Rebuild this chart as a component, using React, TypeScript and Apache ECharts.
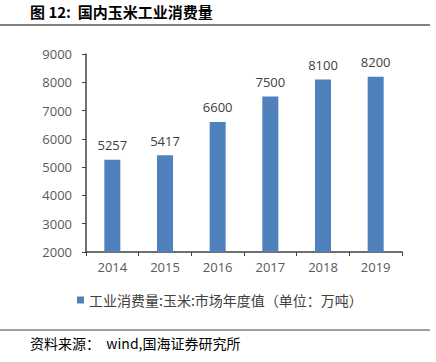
import React, { useEffect, useRef } from "react";
import * as echarts from "echarts";

const title = "图 12:  国内玉米工业消费量";
const source = "资料来源：  wind,国海证券研究所";
const seriesName = "工业消费量:玉米:市场年度值（单位：万吨）";
const categories = ["2014", "2015", "2016", "2017", "2018", "2019"];
const values = [5257, 5417, 6600, 7500, 8100, 8200];

export default function App() {
  const ref = useRef<HTMLDivElement>(null);
  useEffect(() => {
    const chart = echarts.init(ref.current!, null, { renderer: "svg" });
    chart.setOption({
      animation: false,
      backgroundColor: "#fff",
      textStyle: { fontFamily: "Noto Sans CJK SC, sans-serif" },
      grid: { left: 86, right: 34, top: 54, bottom: 110 },
      legend: {
        data: [seriesName],
        left: 72,
        top: 288,
        itemWidth: 7,
        itemHeight: 7,
        itemGap: 5,
        icon: "rect",
        textStyle: { fontSize: 14, color: "#404040", fontFamily: "Noto Sans CJK SC" },
      },
      xAxis: {
        type: "category",
        data: categories,
        axisLine: { lineStyle: { color: "#404040", width: 1.5 } },
        axisTick: { show: true, length: 4, lineStyle: { color: "#404040" } },
        axisLabel: { color: "#595959", fontSize: 13, margin: 8, fontFamily: "Open Sans, sans-serif" },
      },
      yAxis: {
        type: "value",
        min: 2000,
        max: 9000,
        interval: 1000,
        splitLine: { show: false },
        axisLine: { show: true, lineStyle: { color: "#404040", width: 1.5 } },
        axisTick: { show: true, length: 4, lineStyle: { color: "#404040" } },
        axisLabel: {
          color: "#595959",
          fontSize: 13,
          margin: 14,
          fontFamily: "Open Sans, sans-serif",
          formatter: (v: number) => String(v),
        },
      },
      series: [
        {
          name: seriesName,
          type: "bar",
          data: values,
          barWidth: 16,
          itemStyle: { color: "#4f81bd" },
          label: {
            show: true,
            position: "top",
            distance: 8,
            color: "#404040",
            fontSize: 13,
            fontFamily: "Open Sans, sans-serif",
          },
        },
      ],
      graphic: [
        {
          type: "text",
          left: 30,
          top: 4,
          style: { text: title, font: "bold 15px 'Noto Sans CJK SC'", fill: "#000" },
        },
        {
          type: "line",
          shape: { x1: 0, y1: 25, x2: 430, y2: 25 },
          style: { stroke: "#808080", lineWidth: 2 },
        },
        {
          type: "line",
          shape: { x1: 0, y1: 330, x2: 430, y2: 330 },
          style: { stroke: "#404040", lineWidth: 1 },
        },
        {
          type: "text",
          left: 30,
          top: 336,
          style: { text: source, font: "14px 'Noto Sans CJK SC'", fill: "#000" },
        },
      ],
    });
    return () => chart.dispose();
  }, []);
  return <div ref={ref} style={{ width: 436, height: 362, position: "absolute", left: 0, top: 0 }} />;
}
